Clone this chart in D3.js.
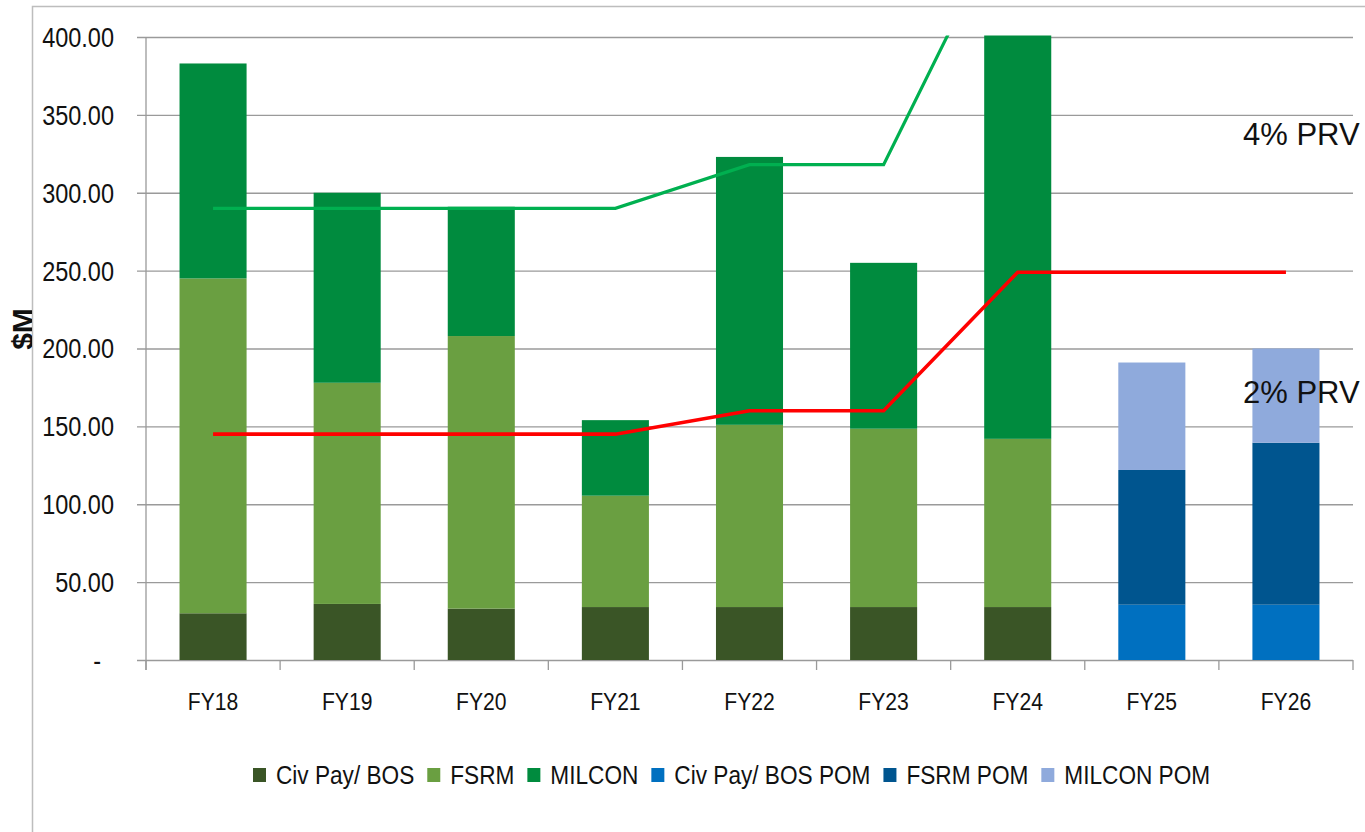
<!DOCTYPE html>
<html>
<head>
<meta charset="utf-8">
<script src="https://cdn.jsdelivr.net/npm/d3@7"></script>
<style>
  body { margin: 0; background: #fff; }
  svg { display: block; }
</style>
</head>
<body>
<div id="grafico"></div>
<script>
const years = ["FY18", "FY19", "FY20", "FY21", "FY22", "FY23", "FY24", "FY25", "FY26"];
const seriesNames = ["Civ Pay/ BOS", "FSRM", "MILCON", "Civ Pay/ BOS POM", "FSRM POM", "MILCON POM"];
const civPay    = [30, 36, 33, 34, 34, 34, 34, 0, 0];
const fsrm      = [215, 142, 175, 71.5, 117, 114.5, 108, 0, 0];
const milcon    = [138, 122, 83, 48.5, 172, 106.5, 300, 0, 0];
const civPayPom = [0, 0, 0, 0, 0, 0, 0, 35.5, 35.5];
const fsrmPom   = [0, 0, 0, 0, 0, 0, 0, 86.5, 104];
const milconPom = [0, 0, 0, 0, 0, 0, 0, 69, 60.5];
const prv4 = [290, 290, 290, 290, 318, 318, 492, 492, 492];
const prv2 = [145, 145, 145, 145, 160, 160, 249, 249, 249];
const yTicks = [0, 50, 100, 150, 200, 250, 300, 350, 400];

const colors = ["#3a5526", "#6a9f41", "#008b3e", "#0070c0", "#00558f", "#8faadc"];
const font = '"Liberation Sans", Arial, sans-serif';

const W = 1365, H = 832;
const margin = { top: 37, left: 146, bottom: 172, right: 12 };
const width = W - margin.left - margin.right;
const height = H - margin.top - margin.bottom;

// no narrow font installed, so squeeze text to a Calibri-like width
function squeeze(sel, k) {
    sel.each(function() {
        const w = this.getComputedTextLength();
        d3.select(this)
          .attr("textLength", w * k)
          .attr("lengthAdjust", "spacingAndGlyphs");
    });
}

const root = d3.select("#grafico")
               .append("svg")
               .attr("width", W)
               .attr("height", H);

// outer chart frame (only top and left show)
root.append("path")
    .attr("d", `M32.5,${H} V6.5 H${W}`)
    .attr("fill", "none")
    .attr("stroke", "#bdbdbd")
    .attr("stroke-width", 1.5);

const svg = root.append("g")
                .attr("transform", `translate(${margin.left}, ${margin.top})`);

const xScale = d3.scaleBand()
                 .domain(years)
                 .range([0, width])
                 .paddingInner(0.5)
                 .paddingOuter(0.25);

const yScale = d3.scaleLinear()
                 .domain([0, 400])
                 .range([height, 0]);

// gridlines + y ticks
const yAxisCall = d3.axisLeft(yScale)
                    .tickValues(yTicks)
                    .tickSize(-width - 9)
                    .tickFormat(d => d === 0 ? "-" : d3.format(".2f")(d));

const yAxis = svg.append("g")
                 .attr("transform", `translate(${-9}, 0)`)
                 .call(yAxisCall);
yAxis.select(".domain").remove();
yAxis.selectAll(".tick line")
     .attr("stroke", "#9a9a9a")
     .attr("stroke-width", 1.3);
yAxis.selectAll(".tick text")
     .attr("font-family", font)
     .attr("font-size", 27)
     .attr("fill", "#111")
     .attr("dy", "0.35em")
     .attr("x", d => d === 0 ? -36 : -23)
     .call(squeeze, 0.87);

// y axis line
svg.append("line")
   .attr("x1", 0).attr("x2", 0)
   .attr("y1", 0).attr("y2", height + 10)
   .attr("stroke", "#9a9a9a")
   .attr("stroke-width", 1.3);

// category boundary ticks
const step = xScale.step();
svg.append("g")
   .selectAll("line")
   .data(d3.range(years.length + 1))
   .join("line")
   .attr("x1", i => i * step).attr("x2", i => i * step)
   .attr("y1", height).attr("y2", height + 10)
   .attr("stroke", "#9a9a9a")
   .attr("stroke-width", 1.3);

// clip for things that run past 400
svg.append("clipPath")
   .attr("id", "plotClip")
   .append("rect")
   .attr("x", -5)
   .attr("y", -1.5)
   .attr("width", width + 10)
   .attr("height", height + 1.5);

// stacked bars
const table = years.map((y, i) => ({
    year: y,
    s0: civPay[i], s1: fsrm[i], s2: milcon[i],
    s3: civPayPom[i], s4: fsrmPom[i], s5: milconPom[i]
}));
const stack = d3.stack().keys(["s0", "s1", "s2", "s3", "s4", "s5"]);
const layers = stack(table);

const plot = svg.append("g").attr("clip-path", "url(#plotClip)");

plot.selectAll("g.layer")
    .data(layers)
    .join("g")
    .attr("class", "layer")
    .attr("fill", (d, i) => colors[i])
    .selectAll("rect")
    .data(d => d.filter(p => p[1] - p[0] > 0))
    .join("rect")
    .attr("x", d => xScale(d.data.year))
    .attr("width", xScale.bandwidth())
    .attr("y", d => yScale(d[1]))
    .attr("height", d => yScale(d[0]) - yScale(d[1]));

// PRV lines
const line = d3.line()
               .x((d, i) => xScale(years[i]) + xScale.bandwidth() / 2)
               .y(d => yScale(d));

plot.append("path")
    .datum(prv4)
    .attr("d", line)
    .attr("fill", "none")
    .attr("stroke", "#00b050")
    .attr("stroke-width", 3.2);

plot.append("path")
    .datum(prv2)
    .attr("d", line)
    .attr("fill", "none")
    .attr("stroke", "#ff0000")
    .attr("stroke-width", 3.6);

// x labels
svg.append("g")
   .selectAll("text")
   .data(years)
   .join("text")
   .attr("x", d => xScale(d) + xScale.bandwidth() / 2)
   .attr("y", height + 50)
   .attr("text-anchor", "middle")
   .attr("font-family", font)
   .attr("font-size", 24)
   .attr("fill", "#111")
   .text(d => d)
   .call(squeeze, 0.88);

// line annotations
svg.append("text")
   .attr("x", 1243 - margin.left)
   .attr("y", 145 - margin.top)
   .attr("font-family", font)
   .attr("font-size", 31)
   .attr("fill", "#111")
   .text("4% PRV");

svg.append("text")
   .attr("x", 1243 - margin.left)
   .attr("y", 403 - margin.top)
   .attr("font-family", font)
   .attr("font-size", 31)
   .attr("fill", "#111")
   .text("2% PRV");

// y axis title, cut off by the frame like in the original
root.append("clipPath")
    .attr("id", "titleClip")
    .append("rect")
    .attr("x", 0).attr("y", 0)
    .attr("width", 32).attr("height", H);

root.append("g")
    .attr("clip-path", "url(#titleClip)")
    .append("text")
    .attr("transform", "translate(33, 329) rotate(-90)")
    .attr("text-anchor", "middle")
    .attr("font-family", font)
    .attr("font-weight", "bold")
    .attr("font-size", 30)
    .attr("fill", "#111")
    .text("$M");

// legend
const legend = root.append("g")
                   .attr("transform", "translate(253, 775)");
let lx = 0;
seriesNames.forEach((name, i) => {
    const item = legend.append("g").attr("transform", `translate(${lx}, 0)`);
    item.append("rect")
        .attr("x", 0).attr("y", -7)
        .attr("width", 13).attr("height", 14)
        .attr("fill", colors[i]);
    const t = item.append("text")
        .attr("x", 23)
        .attr("y", 9)
        .attr("font-family", font)
        .attr("font-size", 26)
        .attr("fill", "#111")
        .text(name)
        .call(squeeze, 0.87);
    lx += 23 + (+t.attr("textLength")) + 13;
});
</script>
</body>
</html>
